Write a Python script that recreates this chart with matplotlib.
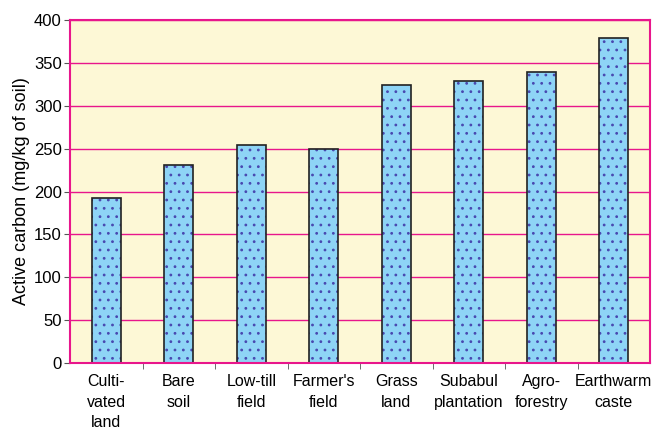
import numpy as np
import matplotlib.pyplot as plt
from matplotlib.ticker import MultipleLocator, FixedLocator

categories = ["Culti-\nvated\nland", "Bare\nsoil", "Low-till\nfield", "Farmer's\nfield",
              "Grass\nland", "Subabul\nplantation", "Agro-\nforestry", "Earthwarm\ncaste"]
carbon = [192, 231, 254, 249, 324, 329, 339, 379]

plt.rcParams['font.family'] = ['Liberation Sans', 'DejaVu Sans']
plt.rcParams['hatch.linewidth'] = 0.8
pink = "#e8168c"

fig = plt.figure(figsize=(6.62, 4.32), dpi=100)
ax = fig.add_axes([70 / 662, 1 - 363 / 432, 580 / 662, 343 / 432])
ax.set_facecolor("#fdf8d6")

x = np.arange(len(categories))
ax.set_axisbelow(True)
ax.yaxis.grid(True, color=pink, linewidth=1)

# fill + dot hatch, then black outline on top
ax.bar(x, carbon, width=0.4, color="#8ed4f6", edgecolor="#4848b0", hatch="..", linewidth=0)
ax.bar(x, carbon, width=0.4, facecolor="none", edgecolor="#222222", linewidth=1.2)

ax.set_xlim(-0.5, len(categories) - 0.5)
ax.set_ylim(0, 400)
ax.yaxis.set_major_locator(MultipleLocator(50))

ax.set_xticks(x)
ax.set_xticklabels(categories, fontsize=11.5, linespacing=1.45)
ax.tick_params(axis="x", length=0, pad=8)
ax.xaxis.set_minor_locator(FixedLocator(np.arange(0.5, len(categories) - 0.5)))
ax.tick_params(axis="x", which="minor", length=4, color="#555555")
ax.tick_params(axis="y", length=4, color="#555555", labelsize=12, pad=2)

for side in ["left", "right", "top", "bottom"]:
    ax.spines[side].set_color(pink)
    ax.spines[side].set_linewidth(1.5)

ax.set_ylabel("Active carbon (mg/kg of soil)", fontsize=13, labelpad=3)

fig.savefig("out.png", dpi=100)
